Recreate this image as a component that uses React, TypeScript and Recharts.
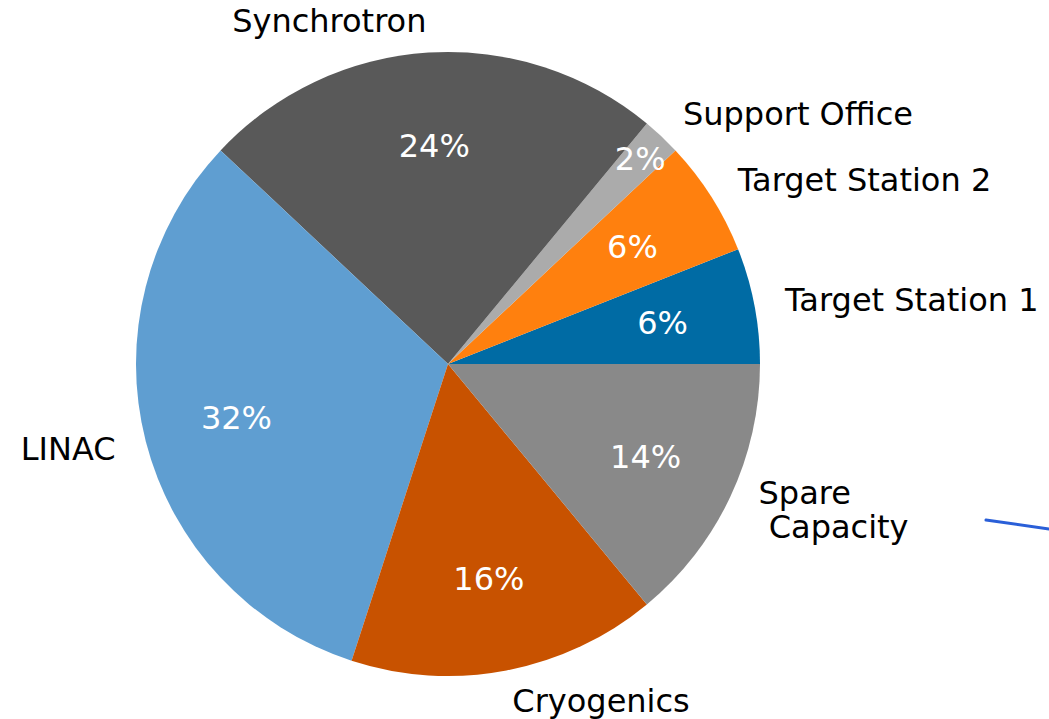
import React from "react";
import { PieChart, Pie, Cell } from "recharts";

const names = [
  "Target Station 1",
  "Target Station 2",
  "Support Office",
  "Synchrotron",
  "LINAC",
  "Cryogenics",
  "Spare Capacity",
];
const shares = [6, 6, 2, 24, 32, 16, 14];
const colors = ["#006BA4", "#FF800E", "#ABABAB", "#595959", "#5F9ED1", "#C85200", "#898989"];
// matplotlib wraps this one label over two lines
const labelLines: Record<string, string[]> = {
  "Spare Capacity": ["Spare", " Capacity"],
};
// the thin slice has its percentage pushed out toward the rim
const pctDistance: Record<string, number> = {
  "Support Office": 0.9,
};

const data = names.map((name, i) => ({ name, value: shares[i] }));

const RADIAN = Math.PI / 180;
const FONT = "'DejaVu Sans', sans-serif";
const FONT_SIZE = 32;
const LINE_H = 34;

const renderLabel = (props: any) => {
  const { cx, cy, midAngle, outerRadius, percent, name, index } = props;
  const cos = Math.cos(-midAngle * RADIAN);
  const sin = Math.sin(-midAngle * RADIAN);
  const lx = cx + outerRadius * 1.1 * cos;
  const ly = cy + outerRadius * 1.1 * sin;
  const pd = pctDistance[name] ?? 0.7;
  const px = cx + outerRadius * pd * cos;
  const py = cy + outerRadius * pd * sin;
  const anchor = cos >= 0 ? "start" : "end";
  const lines = labelLines[name] || [name];
  const top = ly - ((lines.length - 1) * LINE_H) / 2;
  return (
    <g key={`lbl-${index}`}>
      <text
        x={lx}
        y={top}
        textAnchor={anchor}
        dominantBaseline="central"
        fill="#000"
        fontFamily={FONT}
        fontSize={FONT_SIZE}
        style={{ whiteSpace: "pre" }}
      >
        {lines.map((ln, i) => (
          <tspan key={i} x={lx} y={top + i * LINE_H}>
            {ln}
          </tspan>
        ))}
      </text>
      <text
        x={px}
        y={py}
        textAnchor="middle"
        dominantBaseline="central"
        fill="#fff"
        fontFamily={FONT}
        fontSize={FONT_SIZE}
      >
        {`${Math.round(percent * 100)}%`}
      </text>
    </g>
  );
};

export default function App() {
  return (
    <div style={{ position: "absolute", left: 0, top: 0, width: 1049, height: 719, background: "#fff" }}>
      <PieChart width={1049} height={719} margin={{ top: 0, right: 0, bottom: 0, left: 0 }}>
        <Pie
          data={data}
          dataKey="value"
          nameKey="name"
          cx={448}
          cy={364}
          outerRadius={312}
          startAngle={0}
          endAngle={360}
          stroke="none"
          label={renderLabel}
          labelLine={false}
          isAnimationActive={false}
        >
          {data.map((d, i) => (
            <Cell key={d.name} fill={colors[i]} />
          ))}
        </Pie>
      </PieChart>
      <svg width={1049} height={719} style={{ position: "absolute", left: 0, top: 0, pointerEvents: "none" }}>
        <line x1={986} y1={520} x2={1049} y2={529} stroke="#2a5fd8" strokeWidth={3} strokeLinecap="round" />
      </svg>
    </div>
  );
}
